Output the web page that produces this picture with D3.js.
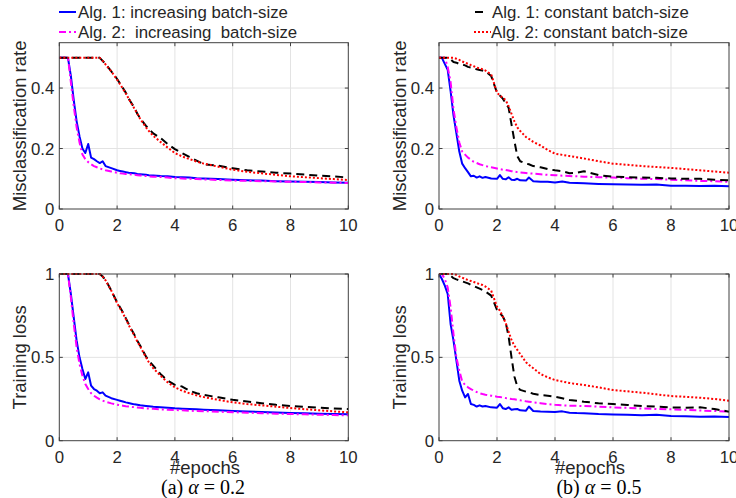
<!DOCTYPE html>
<html>
<head>
<meta charset="utf-8">
<script src="https://cdn.jsdelivr.net/npm/d3@7/dist/d3.min.js"></script>
<style>
  html, body { margin: 0; padding: 0; background: #fff; }
  svg { display: block; }
  text { font-family: "Liberation Sans", Arial, sans-serif; fill: #262626; }
  .cap { font-family: "Liberation Serif", "Times New Roman", serif; fill: #000; }
</style>
</head>
<body>
<svg id="chart" width="736" height="498"></svg>
<script>
// epochs shared by every curve
const epochs = [
  0, 0.1, 0.2, 0.3, 0.4, 0.5, 0.6, 0.7, 0.8, 0.9,
  1.0, 1.1, 1.2, 1.3, 1.4, 1.5, 1.6, 1.8, 2.0,
  2.1, 2.2, 2.3, 2.4, 2.5, 2.6, 2.7, 2.8, 3.0, 3.1,
  3.25, 3.5, 3.75, 4.0, 4.25, 4.5, 4.75, 5.0,
  5.5, 6.0, 6.5, 7.0, 7.5, 8.0, 8.5, 9.0, 9.5, 10
];

const xTicks = [0, 2, 4, 6, 8, 10];
const misTicks = [0, 0.2, 0.4];
const lossTicks = [0, 0.5, 1];

const seriesNames = [
  'Alg. 1: increasing batch-size',
  'Alg. 2:  increasing  batch-size',
  'Alg. 1: constant batch-size',
  'Alg. 2: constant batch-size'
];

// (a) alpha = 0.2, misclassification rate
const misA_inc1 = [
  0.5, 0.5, 0.5, 0.5, 0.44, 0.36, 0.29, 0.24, 0.2, 0.185,
  0.215, 0.17, 0.165, 0.158, 0.152, 0.158, 0.142, 0.135, 0.128,
  0.126, 0.124, 0.122, 0.12, 0.119, 0.118, 0.116, 0.115, 0.113, 0.112,
  0.111, 0.109, 0.108, 0.106, 0.105, 0.104, 0.102, 0.101,
  0.099, 0.097, 0.095, 0.094, 0.092, 0.091, 0.09, 0.089, 0.088, 0.087
];
const misA_inc2 = [
  0.5, 0.5, 0.5, 0.5, 0.42, 0.34, 0.27, 0.22, 0.18, 0.165,
  0.155, 0.148, 0.142, 0.138, 0.134, 0.131, 0.128, 0.124, 0.12,
  0.118, 0.117, 0.116, 0.115, 0.114, 0.113, 0.112, 0.111, 0.109, 0.108,
  0.107, 0.106, 0.104, 0.102, 0.101, 0.1, 0.099, 0.098,
  0.096, 0.094, 0.093, 0.092, 0.091, 0.09, 0.089, 0.088, 0.087, 0.086
];
const misA_con1 = [
  0.5, 0.5, 0.5, 0.5, 0.5, 0.5, 0.5, 0.5, 0.5, 0.5,
  0.5, 0.5, 0.5, 0.5, 0.5, 0.49, 0.48, 0.455, 0.43,
  0.415, 0.4, 0.385, 0.365, 0.35, 0.335, 0.315, 0.3, 0.275, 0.265,
  0.25, 0.235, 0.215, 0.198, 0.185, 0.172, 0.16, 0.148,
  0.143, 0.135, 0.128, 0.124, 0.12, 0.117, 0.114, 0.11, 0.108, 0.104
];
const misA_con2 = [
  0.5, 0.5, 0.5, 0.5, 0.5, 0.5, 0.5, 0.5, 0.5, 0.5,
  0.5, 0.5, 0.5, 0.5, 0.5, 0.49, 0.478, 0.455, 0.428,
  0.413, 0.398, 0.382, 0.365, 0.348, 0.332, 0.315, 0.298, 0.27, 0.258,
  0.242, 0.222, 0.203, 0.185, 0.174, 0.165, 0.157, 0.15,
  0.14, 0.13, 0.123, 0.118, 0.113, 0.108, 0.105, 0.102, 0.099, 0.096
];

// (a) alpha = 0.2, training loss
const lossA_inc1 = [
  1, 1, 1, 1, 0.88, 0.74, 0.6, 0.5, 0.43, 0.37,
  0.41, 0.33, 0.31, 0.3, 0.285, 0.29, 0.27, 0.255, 0.245,
  0.24, 0.235, 0.23, 0.226, 0.222, 0.218, 0.215, 0.212, 0.208, 0.206,
  0.203, 0.2, 0.197, 0.194, 0.192, 0.19, 0.188, 0.186,
  0.182, 0.178, 0.175, 0.172, 0.169, 0.166, 0.164, 0.162, 0.16, 0.158
];
const lossA_inc2 = [
  1, 1, 1, 1, 0.86, 0.7, 0.56, 0.46, 0.39, 0.34,
  0.31, 0.285, 0.27, 0.258, 0.248, 0.24, 0.233, 0.224, 0.216,
  0.213, 0.21, 0.207, 0.205, 0.203, 0.201, 0.199, 0.197, 0.194, 0.193,
  0.191, 0.188, 0.186, 0.184, 0.182, 0.18, 0.178, 0.177,
  0.174, 0.171, 0.168, 0.165, 0.162, 0.16, 0.158, 0.156, 0.154, 0.152
];
const lossA_con1 = [
  1, 1, 1, 1, 1, 1, 1, 1, 1, 1,
  1, 1, 1, 1, 1, 0.985, 0.965, 0.9, 0.83,
  0.8, 0.77, 0.735, 0.7, 0.665, 0.635, 0.6, 0.57, 0.505, 0.48,
  0.45, 0.4, 0.36, 0.335, 0.325, 0.3, 0.285, 0.275,
  0.26, 0.245, 0.235, 0.225, 0.215, 0.208, 0.203, 0.198, 0.193, 0.19
];
const lossA_con2 = [
  1, 1, 1, 1, 1, 1, 1, 1, 1, 1,
  1, 1, 1, 1, 1, 0.985, 0.962, 0.9, 0.825,
  0.795, 0.765, 0.73, 0.695, 0.66, 0.63, 0.595, 0.565, 0.5, 0.47,
  0.435, 0.39, 0.35, 0.32, 0.3, 0.285, 0.272, 0.262,
  0.245, 0.23, 0.22, 0.212, 0.204, 0.196, 0.189, 0.182, 0.176, 0.17
];

// (b) alpha = 0.5, misclassification rate
const misB_inc1 = [
  0.5, 0.5, 0.48, 0.46, 0.39, 0.31, 0.25, 0.19, 0.15, 0.135,
  0.122, 0.108, 0.11, 0.104, 0.108, 0.103, 0.106, 0.101, 0.1,
  0.112, 0.1, 0.098, 0.105, 0.097, 0.096, 0.1, 0.095, 0.094, 0.104,
  0.092, 0.09, 0.09, 0.088, 0.091, 0.087, 0.086, 0.085,
  0.083, 0.082, 0.081, 0.08, 0.081, 0.077, 0.077, 0.076, 0.077, 0.075
];
const misB_inc2 = [
  0.5, 0.5, 0.5, 0.47, 0.42, 0.33, 0.27, 0.22, 0.19, 0.18,
  0.17, 0.163, 0.156, 0.152, 0.148, 0.145, 0.142, 0.138, 0.134,
  0.132, 0.13, 0.129, 0.127, 0.125, 0.124, 0.122, 0.121, 0.119, 0.118,
  0.117, 0.115, 0.113, 0.112, 0.11, 0.109, 0.108, 0.107,
  0.105, 0.104, 0.102, 0.1, 0.099, 0.097, 0.095, 0.093, 0.092, 0.09
];
const misB_con1 = [
  0.5, 0.5, 0.5, 0.5, 0.495, 0.486, 0.484, 0.48, 0.478, 0.475,
  0.47, 0.468, 0.465, 0.462, 0.46, 0.458, 0.455, 0.44, 0.385,
  0.375, 0.365, 0.35, 0.335, 0.28, 0.225, 0.175, 0.158, 0.15, 0.148,
  0.142, 0.138, 0.132, 0.128, 0.125, 0.118, 0.12, 0.125,
  0.112, 0.107, 0.105, 0.104, 0.103, 0.101, 0.1, 0.1, 0.097, 0.095
];
const misB_con2 = [
  0.5, 0.5, 0.5, 0.5, 0.5, 0.5, 0.497, 0.493, 0.488, 0.484,
  0.48, 0.476, 0.472, 0.468, 0.465, 0.462, 0.458, 0.445, 0.385,
  0.375, 0.368, 0.36, 0.34, 0.315, 0.29, 0.27, 0.258, 0.238, 0.232,
  0.222, 0.21, 0.195, 0.183, 0.179, 0.175, 0.171, 0.167,
  0.158, 0.15, 0.146, 0.142, 0.139, 0.136, 0.132, 0.128, 0.124, 0.12
];

// (b) alpha = 0.5, training loss
const lossB_inc1 = [
  1, 0.97, 0.93, 0.88, 0.7, 0.6, 0.48, 0.36, 0.3, 0.26,
  0.28, 0.22, 0.215, 0.205, 0.212, 0.205, 0.208, 0.2, 0.198,
  0.22, 0.195, 0.19, 0.2, 0.185, 0.188, 0.19, 0.182, 0.18, 0.205,
  0.178, 0.175, 0.174, 0.172, 0.176, 0.168, 0.166, 0.165,
  0.16, 0.157, 0.155, 0.153, 0.155, 0.148, 0.146, 0.144, 0.145, 0.142
];
const lossB_inc2 = [
  1, 1, 0.97, 0.92, 0.8, 0.64, 0.5, 0.42, 0.355, 0.335,
  0.32, 0.31, 0.3, 0.292, 0.285, 0.28, 0.276, 0.27, 0.264,
  0.262, 0.259, 0.256, 0.254, 0.25, 0.248, 0.245, 0.242, 0.236, 0.234,
  0.23, 0.225, 0.22, 0.215, 0.212, 0.21, 0.209, 0.208,
  0.204, 0.2, 0.197, 0.193, 0.19, 0.188, 0.185, 0.181, 0.178, 0.174
];
const lossB_con1 = [
  1, 1, 1, 1, 0.99, 0.975, 0.968, 0.962, 0.956, 0.95,
  0.944, 0.935, 0.928, 0.92, 0.912, 0.904, 0.895, 0.87, 0.785,
  0.765, 0.745, 0.71, 0.625, 0.5, 0.385, 0.325, 0.305, 0.294, 0.29,
  0.282, 0.274, 0.27, 0.264, 0.255, 0.244, 0.24, 0.234,
  0.224, 0.22, 0.214, 0.208, 0.204, 0.2, 0.198, 0.2, 0.19, 0.174
];
const lossB_con2 = [
  1, 1, 1, 1, 1, 1, 0.995, 0.985, 0.978, 0.97,
  0.964, 0.958, 0.952, 0.946, 0.94, 0.934, 0.925, 0.9, 0.804,
  0.78, 0.745, 0.705, 0.655, 0.604, 0.57, 0.545, 0.52, 0.47, 0.455,
  0.435, 0.4, 0.38, 0.364, 0.355, 0.346, 0.34, 0.334,
  0.32, 0.304, 0.296, 0.288, 0.278, 0.268, 0.263, 0.258, 0.25, 0.24
];

// line styles, in legend order
const styles = [
  { color: '#0000ff', dash: null },
  { color: '#ff00ff', dash: '7,3,2,3' },
  { color: '#000000', dash: '8,5' },
  { color: '#ff0000', dash: '2,2' }
];

const panels = [
  { left: 59.3, right: 348.3, top: 42.7, bottom: 209, ymax: 0.55, yTicks: misTicks,
    label: 'Misclassification rate', lines: [misA_inc1, misA_inc2, misA_con1, misA_con2] },
  { left: 439, right: 729, top: 42.7, bottom: 209, ymax: 0.55, yTicks: misTicks,
    label: 'Misclassification rate', lines: [misB_inc1, misB_inc2, misB_con1, misB_con2] },
  { left: 59.3, right: 348.3, top: 274, bottom: 440.7, ymax: 1, yTicks: lossTicks,
    label: 'Training loss', lines: [lossA_inc1, lossA_inc2, lossA_con1, lossA_con2] },
  { left: 439, right: 729, top: 274, bottom: 440.7, ymax: 1, yTicks: lossTicks,
    label: 'Training loss', lines: [lossB_inc1, lossB_inc2, lossB_con1, lossB_con2] }
];

const svg = d3.select('#chart');
const axisColor = '#404040';
const tickFont = 16.8;
const labelFont = 18.5;

panels.forEach((p, pi) => {
  const x = d3.scaleLinear().domain([0, 10]).range([p.left, p.right]);
  const y = d3.scaleLinear().domain([0, p.ymax]).range([p.bottom, p.top]);
  const g = svg.append('g');

  // grid
  g.selectAll('.gx').data(xTicks.slice(1, -1)).enter().append('line')
    .attr('x1', d => x(d)).attr('x2', d => x(d))
    .attr('y1', p.top).attr('y2', p.bottom)
    .attr('stroke', '#e3e3e3').attr('stroke-width', 1);
  g.selectAll('.gy').data(p.yTicks.filter(t => t > 0 && t < p.ymax)).enter().append('line')
    .attr('x1', p.left).attr('x2', p.right)
    .attr('y1', d => y(d)).attr('y2', d => y(d))
    .attr('stroke', '#e3e3e3').attr('stroke-width', 1);

  // curves
  const clipId = 'clip' + pi;
  svg.append('clipPath').attr('id', clipId).append('rect')
    .attr('x', p.left).attr('y', p.top - 2)
    .attr('width', p.right - p.left).attr('height', p.bottom - p.top + 2);

  const line = d3.line().x((d, i) => x(epochs[i])).y(d => y(d));
  p.lines.forEach((vals, si) => {
    g.append('path')
      .datum(vals)
      .attr('clip-path', `url(#${clipId})`)
      .attr('d', line)
      .attr('fill', 'none')
      .attr('stroke', styles[si].color)
      .attr('stroke-width', 2)
      .attr('stroke-dasharray', styles[si].dash)
      .attr('stroke-linejoin', 'round');
  });

  // frame
  g.append('rect')
    .attr('x', p.left).attr('y', p.top)
    .attr('width', p.right - p.left).attr('height', p.bottom - p.top)
    .attr('fill', 'none').attr('stroke', axisColor).attr('stroke-width', 1);

  // inward ticks, all four sides
  const tl = 3.5;
  xTicks.forEach(t => {
    g.append('line').attr('x1', x(t)).attr('x2', x(t))
      .attr('y1', p.bottom).attr('y2', p.bottom - tl).attr('stroke', axisColor);
    g.append('line').attr('x1', x(t)).attr('x2', x(t))
      .attr('y1', p.top).attr('y2', p.top + tl).attr('stroke', axisColor);
  });
  p.yTicks.forEach(t => {
    g.append('line').attr('x1', p.left).attr('x2', p.left + tl)
      .attr('y1', y(t)).attr('y2', y(t)).attr('stroke', axisColor);
    g.append('line').attr('x1', p.right).attr('x2', p.right - tl)
      .attr('y1', y(t)).attr('y2', y(t)).attr('stroke', axisColor);
  });

  // tick labels
  g.selectAll('.xl').data(xTicks).enter().append('text')
    .attr('x', d => x(d)).attr('y', p.bottom + 22)
    .attr('text-anchor', 'middle').attr('font-size', tickFont)
    .text(d => d);
  g.selectAll('.yl').data(p.yTicks).enter().append('text')
    .attr('x', p.left - 5).attr('y', d => y(d)).attr('dy', '0.36em')
    .attr('text-anchor', 'end').attr('font-size', tickFont)
    .text(d => d);

  // y label
  const lx = p.left - 33;
  const ly = (p.top + p.bottom) / 2;
  g.append('text')
    .attr('transform', `translate(${lx},${ly}) rotate(-90)`)
    .attr('text-anchor', 'middle').attr('font-size', labelFont)
    .text(p.label);
});

// x labels and captions
[[205, '(a)', '0.2'], [590, '(b)', '0.5']].forEach(([cx, tag, a], i) => {
  svg.append('text').attr('x', cx).attr('y', 474)
    .attr('text-anchor', 'middle').attr('font-size', labelFont).text('#epochs');
  const cap = svg.append('text').attr('class', 'cap')
    .attr('x', i === 0 ? 203 : 599).attr('y', 494)
    .attr('text-anchor', 'middle').attr('font-size', 20);
  cap.append('tspan').text(tag + ' ');
  cap.append('tspan').attr('font-style', 'italic').text('α');
  cap.append('tspan').text(' = ' + a);
});

// legend
const legend = [
  { x: 59, y: 12, tx: 78 },
  { x: 59, y: 32, tx: 78 },
  { x: 474, y: 12, tx: 492 },
  { x: 474, y: 32, tx: 491 }
];
legend.forEach((l, i) => {
  svg.append('line')
    .attr('x1', i === 2 ? l.x + 1 : l.x).attr('x2', i === 2 ? l.x + 9 : l.x + 17)
    .attr('y1', l.y).attr('y2', l.y)
    .attr('stroke', styles[i].color).attr('stroke-width', 2)
    .attr('stroke-dasharray', i === 2 ? null : styles[i].dash);
  svg.append('text')
    .attr('x', l.tx).attr('y', l.y + 6)
    .attr('font-size', 16.8).attr('fill', '#000')
    .style('white-space', 'pre')
    .text(seriesNames[i]);
});
</script>
</body>
</html>
